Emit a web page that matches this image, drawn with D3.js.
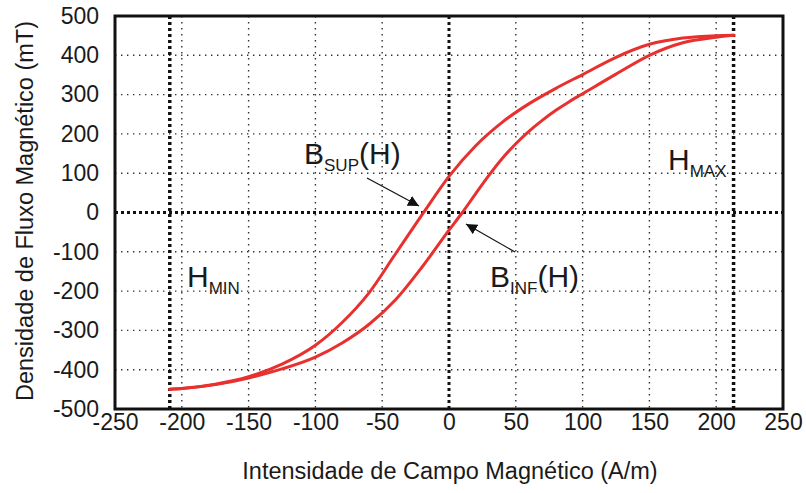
<!DOCTYPE html>
<html>
<head>
<meta charset="utf-8">
<script src="https://cdn.jsdelivr.net/npm/d3@7"></script>
<style>
  html, body { margin: 0; padding: 0; background: #fff; }
  svg text { font-family: "Liberation Sans", Arial, sans-serif; fill: #1a1a1a; }
</style>
</head>
<body>
<svg id="chart" width="806" height="493"></svg>
<script>
// Hysteresis loop: descending (upper) and ascending (lower) branches, H in A/m, B in mT
const hUpper = [-209, -200, -175, -150, -125, -100, -80, -60, -40, -20, 0, 20, 40, 60, 80, 100, 125, 150, 175, 200, 213];
const bUpper = [-450, -448, -437, -418, -386, -338, -280, -205, -105, -5, 92, 170, 230, 277, 316, 351, 395, 428, 444, 450, 451];
const hLower = [-209, -200, -175, -150, -125, -100, -80, -60, -40, -20, 0, 10, 20, 30, 40, 50, 60, 70, 80, 90, 100, 125, 150, 175, 200, 213];
const bLower = [-450, -448, -438, -421, -398, -368, -332, -285, -222, -138, -45, 0, 48, 95, 138, 175, 207, 235, 260, 282, 302, 352, 400, 432, 446, 451];
const xTicks = [-250, -200, -150, -100, -50, 0, 50, 100, 150, 200, 250];
const yTicks = [-500, -400, -300, -200, -100, 0, 100, 200, 300, 400, 500];
const hMin = -209, hMax = 213;

const svg = d3.select("#chart");
const x = d3.scaleLinear().domain([-250, 250]).range([115, 783]);
const y = d3.scaleLinear().domain([-500, 500]).range([409, 16]);

// light dotted grid
const grid = svg.append("g");
grid.selectAll("line.gx").data(xTicks.filter(v => v > -250 && v < 250 && v !== 0)).join("line")
  .attr("x1", d => x(d)).attr("x2", d => x(d)).attr("y1", y(500)).attr("y2", y(-500))
  .attr("stroke", "#333").attr("stroke-width", 1.4).attr("stroke-dasharray", "1.4,4.6");
grid.selectAll("line.gy").data(yTicks.filter(v => v > -500 && v < 500 && v !== 0)).join("line")
  .attr("y1", d => y(d)).attr("y2", d => y(d)).attr("x1", x(-250)).attr("x2", x(250))
  .attr("stroke", "#333").attr("stroke-width", 1.4).attr("stroke-dasharray", "1.4,4.6");

// zero axes and field limits (heavy dotted)
svg.append("line").attr("x1", x(-250)).attr("x2", x(250)).attr("y1", y(0)).attr("y2", y(0))
  .attr("stroke", "#111").attr("stroke-width", 3).attr("stroke-dasharray", "3,3");
[0, hMin, hMax].forEach(v => {
  svg.append("line").attr("x1", x(v)).attr("x2", x(v)).attr("y1", y(500)).attr("y2", y(-500))
    .attr("stroke", "#111").attr("stroke-width", v === 0 ? 3 : 3.5).attr("stroke-dasharray", "3,3");
});

// branches of the loop
const line = d3.line().x(d => x(d[0])).y(d => y(d[1])).curve(d3.curveMonotoneX);
[[hUpper, bUpper], [hLower, bLower]].forEach(([hs, bs]) => {
  svg.append("path").datum(hs.map((h, i) => [h, bs[i]]))
    .attr("d", line).attr("fill", "none").attr("stroke", "#e8302e").attr("stroke-width", 3)
    .attr("stroke-linecap", "round");
});

// frame
svg.append("rect").attr("x", x(-250)).attr("y", y(500))
  .attr("width", x(250) - x(-250)).attr("height", y(-500) - y(500))
  .attr("fill", "none").attr("stroke", "#111").attr("stroke-width", 3);

// tick labels (plain hyphen for negatives)
const fmt = d => String(d);
const xAxis = d3.axisBottom(x).tickValues(xTicks).tickFormat(fmt).tickSize(0).tickPadding(5);
svg.append("g").attr("transform", `translate(0,${y(-500)})`).call(xAxis)
  .call(g => g.select(".domain").remove())
  .selectAll("text").attr("font-size", 23).style("font-family", "Liberation Sans, Arial, sans-serif").attr("fill", "#1a1a1a");
const yAxis = d3.axisLeft(y).tickValues(yTicks).tickFormat(fmt).tickSize(0).tickPadding(16);
svg.append("g").attr("transform", `translate(${x(-250)},0)`).call(yAxis)
  .call(g => g.select(".domain").remove())
  .selectAll("text").attr("font-size", 23).style("font-family", "Liberation Sans, Arial, sans-serif").attr("fill", "#1a1a1a");

// axis titles
svg.append("text").attr("x", 450).attr("y", 479).attr("text-anchor", "middle")
  .attr("font-size", 23.5).text("Intensidade de Campo Magnético (A/m)");
svg.append("text").attr("transform", "translate(33,211) rotate(-90)").attr("text-anchor", "middle")
  .attr("font-size", 23.5).text("Densidade de Fluxo Magnético (mT)");

// annotations
function subLabel(px, py, main, sub, tail) {
  const t = svg.append("text").attr("x", px).attr("y", py).attr("font-size", 30);
  t.append("tspan").text(main);
  t.append("tspan").attr("font-size", 17).attr("dy", 7).text(sub);
  if (tail) t.append("tspan").attr("dy", -7).text(tail);
}
subLabel(304, 164, "B", "SUP", "(H)");
subLabel(490, 287, "B", "INF", "(H)");
subLabel(668, 170, "H", "MAX");
subLabel(187, 287, "H", "MIN");

svg.append("defs").append("marker").attr("id", "ah").attr("viewBox", "0 0 10 10")
  .attr("refX", 10).attr("refY", 5).attr("markerWidth", 11).attr("markerHeight", 11)
  .attr("markerUnits", "userSpaceOnUse").attr("orient", "auto")
  .append("path").attr("d", "M0,0 L10,5 L0,10 Z").attr("fill", "#111");
svg.append("line").attr("x1", 367).attr("y1", 178).attr("x2", 419).attr("y2", 206)
  .attr("stroke", "#111").attr("stroke-width", 1.2).attr("marker-end", "url(#ah)");
svg.append("line").attr("x1", 515).attr("y1", 252).attr("x2", 466).attr("y2", 224)
  .attr("stroke", "#111").attr("stroke-width", 1.2).attr("marker-end", "url(#ah)");
</script>
</body>
</html>
